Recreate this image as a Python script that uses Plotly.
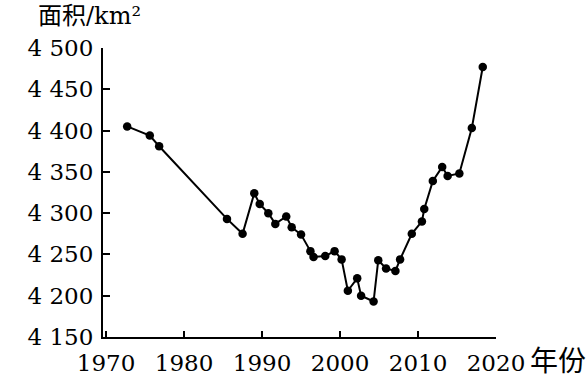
import plotly.graph_objects as go

years = [1972.7, 1975.6, 1976.8, 1985.5, 1987.5, 1989.0, 1989.7, 1990.8, 1991.7,
         1993.1, 1993.8, 1995.0, 1996.2, 1996.6, 1998.1, 1999.3, 2000.2, 2001.0,
         2002.2, 2002.7, 2004.3, 2004.9, 2005.9, 2007.1, 2007.7, 2009.2, 2010.5,
         2010.8, 2011.9, 2013.1, 2013.8, 2015.3, 2016.9, 2018.3]
area = [4405, 4394, 4381, 4293, 4275, 4324, 4311, 4300, 4287,
        4296, 4283, 4274, 4254, 4247, 4248, 4254, 4244, 4206,
        4221, 4200, 4193, 4243, 4233, 4230, 4244, 4275, 4290,
        4305, 4339, 4356, 4345, 4348, 4403, 4477]

x_ticks = [1970, 1980, 1990, 2000, 2010, 2020]
x_tick_text = ["1970", "1980", "1990", "2000", "2010", "2020"]
y_ticks = [4150, 4200, 4250, 4300, 4350, 4400, 4450, 4500]
y_tick_text = ["4 150", "4 200", "4 250", "4 300", "4 350", "4 400", "4 450", "4 500"]

serif = "DejaVu Serif"
cjk = "DejaVu Serif, Noto Sans CJK SC"

fig = go.Figure()
fig.add_trace(go.Scatter(
    x=years, y=area, mode="lines+markers",
    line=dict(color="black", width=2),
    marker=dict(color="black", size=8.5),
    showlegend=False,
))

fig.update_layout(
    width=586, height=379,
    margin=dict(l=103, r=90, t=48, b=42),
    paper_bgcolor="white", plot_bgcolor="white",
    font=dict(family=serif, color="black", size=23),
    xaxis=dict(
        range=[1969.6, 2020], tickvals=x_ticks, ticktext=x_tick_text,
        showgrid=False, zeroline=False, showline=True, linecolor="black", linewidth=2,
        ticks="inside", ticklen=6, tickwidth=2, tickcolor="black", automargin=False,
        ticklabelstandoff=4,
        tickfont=dict(family=serif, size=23, color="black"),
    ),
    yaxis=dict(
        range=[4150, 4500], tickvals=y_ticks, ticktext=y_tick_text,
        showgrid=False, zeroline=False, showline=True, linecolor="black", linewidth=2,
        ticks="inside", ticklen=7, tickwidth=2, tickcolor="black", automargin=False,
        ticklabelstandoff=3,
        tickfont=dict(family=serif, size=23, color="black"),
    ),
    annotations=[
        dict(text="面积/km²", xref="paper", yref="paper", x=-0.171, y=1.111,
             xanchor="left", yanchor="middle", showarrow=False,
             font=dict(family=cjk, size=24, color="black")),
        dict(text="年份", xref="paper", yref="paper", x=1.082, y=-0.0865,
             xanchor="left", yanchor="middle", showarrow=False,
             font=dict(family=cjk, size=28, color="black")),
    ],
)

fig.write_html("out.html")
